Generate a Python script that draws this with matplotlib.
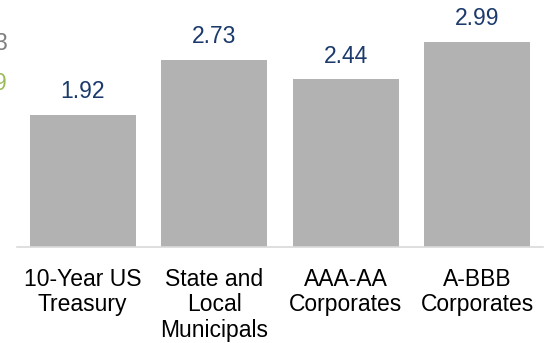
import matplotlib
matplotlib.use("Agg")
import matplotlib.pyplot as plt

plt.rcParams["font.family"] = ["Liberation Sans", "DejaVu Sans"]

categories = ["10-Year US\nTreasury", "State and\nLocal\nMunicipals", "AAA-AA\nCorporates", "A-BBB\nCorporates"]
yields = [1.92, 2.73, 2.44, 2.99]

# stray legend values left over from the neighbouring chart
side_values = ["3", "9"]
side_colors = ["#7f7f7f", "#9bbb59"]

fig = plt.figure(figsize=(5.47, 3.43), dpi=100)
ax = fig.add_axes([17 / 547, 96.3 / 343, 526 / 547, 246.7 / 343])

x = list(range(len(categories)))
bars = ax.bar(x, yields, width=0.805, color="#b2b2b2")
for b, v in zip(bars, yields):
    ax.annotate(f"{v:.2f}", (b.get_x() + b.get_width() / 2, v),
                xytext=(0, 12), textcoords="offset points",
                ha="center", va="baseline", fontsize=16.5, color="#1b3a6b")

ax.set_xlim(-0.5, 3.5)
ax.set_ylim(0, 3.6)
ax.set_xticks(x)
ax.set_xticklabels(categories, fontsize=16.5, linespacing=1.16)
ax.tick_params(axis="x", length=0, pad=15)
ax.set_yticks([])
for s in ["top", "right", "left"]:
    ax.spines[s].set_visible(False)
ax.spines["bottom"].set_color("#d9d9d9")
ax.spines["bottom"].set_linewidth(1.2)

for i, (t, c) in enumerate(zip(side_values, side_colors)):
    fig.text(7 / 547, 1 - (50 + 40 * i) / 343, t, ha="right", va="baseline",
             fontsize=16.5, color=c)

fig.savefig("out.png", dpi=100)
